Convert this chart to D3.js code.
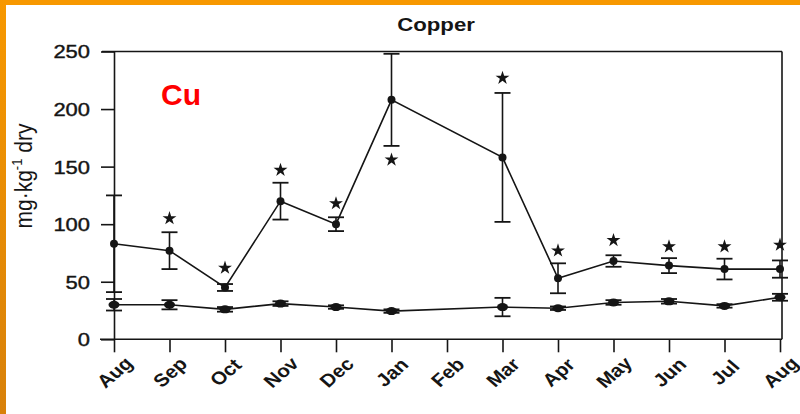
<!DOCTYPE html>
<html>
<head>
<meta charset="utf-8">
<script src="https://cdn.jsdelivr.net/npm/d3@7"></script>
<style>
  html, body { margin: 0; padding: 0; background: #fff; }
  svg { display: block; font-family: "Liberation Sans", Arial, Helvetica, sans-serif; }
</style>
</head>
<body>
<svg id="chart" width="800" height="414"></svg>
<script>
// ---- data ----
const months = ["Aug","Sep","Oct","Nov","Dec","Jan","Feb","Mar","Apr","May","Jun","Jul","Aug"];
const upperMean = [83, 77, 45, 120, 100, 208, null, 158, 53, 68, 64, 61, 61];
const upperErr  = [42, 16, 3, 16, 6, 40, null, 56, 13, 5, 6.5, 9, 7.5];
const lowerMean = [30, 30, 26, 31, 28, 24.5, null, 28, 27, 32, 33, 29, 36.5];
const lowerErr  = [5, 4, 2, 2, 1.5, 1.5, null, 8, 1.5, 2, 2, 1.5, 3];
const starVal   = [null, 105, 62, 147, 118, 156, null, 227, 77, 86, 80.5, 80.5, 82];
const yTicks = [0, 50, 100, 150, 200, 250];

// ---- layout ----
const svg = d3.select("#chart");
const W = 800, H = 414;
const mLeft = 114, mRight = 780, mTop = 51.5, mBottom = 339.3;
const ink = "#151515";
const font = "'Liberation Sans', Arial, sans-serif";

// orange border
const defs = svg.append("defs");
const grad = defs.append("linearGradient").attr("id", "lg").attr("x1", 0).attr("y1", 0).attr("x2", 0).attr("y2", 1);
grad.append("stop").attr("offset", "0%").attr("stop-color", "#F79800");
grad.append("stop").attr("offset", "100%").attr("stop-color", "#D8810A");
svg.append("rect").attr("x", 0).attr("y", 0).attr("width", W).attr("height", 5).attr("fill", "#F79800");
svg.append("rect").attr("x", 0).attr("y", 0).attr("width", 6).attr("height", H).attr("fill", "url(#lg)");

const x = d3.scaleLinear().domain([0, months.length - 1]).range([mLeft, mRight]);
const y = d3.scaleLinear().domain([0, 250]).range([mBottom, mTop]);

// frame (top & right)
svg.append("line").attr("x1", 102).attr("x2", mRight + 2).attr("y1", mTop).attr("y2", mTop)
  .attr("stroke", ink).attr("stroke-width", 1.6);
svg.append("line").attr("x1", mRight + 2).attr("x2", mRight + 2).attr("y1", mTop).attr("y2", mBottom)
  .attr("stroke", ink).attr("stroke-width", 1.6);

// y axis
const yAxis = svg.append("g").attr("transform", `translate(${mLeft},0)`)
  .call(d3.axisLeft(y).tickValues(yTicks).tickSize(13).tickPadding(11).tickSizeOuter(0));
yAxis.select(".domain").attr("stroke", ink).attr("stroke-width", 1.6);
yAxis.selectAll(".tick line").attr("stroke", ink).attr("stroke-width", 1.6);
yAxis.selectAll(".tick text").attr("font-size", 18).attr("fill", ink)
  .attr("font-family", font).attr("stroke", ink).attr("stroke-width", 0.4)
  .attr("x", 0).attr("dy", "0.36em")
  .attr("transform", "translate(-24,0) scale(1.22,1)");

// x axis
const xAxis = svg.append("g").attr("transform", `translate(0,${mBottom})`)
  .call(d3.axisBottom(x).tickValues(d3.range(months.length)).tickFormat(i => months[i])
    .tickSize(13).tickSizeOuter(0));
xAxis.select(".domain").attr("stroke", ink).attr("stroke-width", 1.6).attr("d", `M100,0H${mRight + 2}`);
xAxis.selectAll(".tick line").attr("stroke", ink).attr("stroke-width", 1.6);
xAxis.selectAll(".tick text")
  .attr("font-size", 18).attr("fill", ink).attr("font-weight", "bold")
  .attr("font-family", font)
  .attr("text-anchor", "middle").attr("dy", "0.35em")
  .attr("y", 0)
  .attr("transform", "translate(0,33) scale(1.15,1) rotate(-45)");

// series helper
function drawSeries(means, errs, r) {
  const pts = means.map((m, i) => ({ i, m, e: errs[i] })).filter(d => d.m !== null);
  const line = d3.line().x(d => x(d.i)).y(d => y(d.m));
  svg.append("path").datum(pts).attr("d", line)
    .attr("fill", "none").attr("stroke", ink).attr("stroke-width", 1.6);
  const g = svg.append("g");
  pts.forEach(d => {
    const cx = x(d.i);
    const y1 = y(Math.min(250, d.m + d.e)), y0 = y(d.m - d.e);
    g.append("line").attr("x1", cx).attr("x2", cx).attr("y1", y1).attr("y2", y0)
      .attr("stroke", ink).attr("stroke-width", 1.6);
    [y1, y0].forEach(yy => g.append("line").attr("x1", cx - 8).attr("x2", cx + 8)
      .attr("y1", yy).attr("y2", yy).attr("stroke", ink).attr("stroke-width", 1.8));
    g.append("ellipse").attr("cx", cx).attr("cy", y(d.m)).attr("rx", r[0]).attr("ry", r[1]).attr("fill", ink);
  });
}
drawSeries(upperMean, upperErr, [4, 4]);
drawSeries(lowerMean, lowerErr, [5.5, 4]);

// significance stars
svg.append("g").selectAll("path")
  .data(starVal.map((v, i) => ({ v, i })).filter(d => d.v !== null))
  .join("path")
  .attr("d", d3.symbol().type(d3.symbolStar).size(60))
  .attr("transform", d => `translate(${x(d.i)},${y(d.v)})`)
  .attr("fill", ink);

// title
svg.append("text").attr("transform", "translate(436,31) scale(1.17,1)").attr("text-anchor", "middle")
  .attr("font-size", 19).attr("font-weight", "bold").attr("fill", ink).text("Copper");

// Cu label
svg.append("text").attr("x", 161).attr("y", 105)
  .attr("font-size", 30).attr("font-weight", "bold").attr("fill", "#FF0000").text("Cu");

// y label
const yl = svg.append("text").attr("transform", "translate(32,176) scale(1.15,1) rotate(-90)")
  .attr("text-anchor", "middle").attr("font-size", 21).attr("fill", ink);
yl.append("tspan").text("mg·kg");
yl.append("tspan").attr("font-size", 13).attr("dy", -9).text("-1");
yl.append("tspan").attr("dy", 9).text(" dry");
</script>
</body>
</html>
